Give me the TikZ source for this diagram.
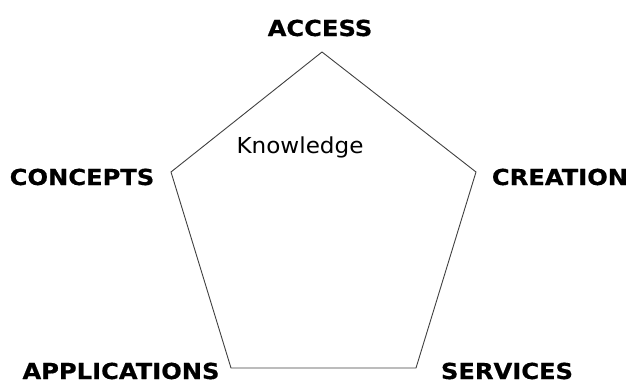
\documentclass[tikz,border=0pt]{standalone}
\usepackage{fontspec}
\setmainfont{DejaVu Sans}
\newfontfamily\cornerfont{DejaVu Sans Bold}[FakeStretch=1.1,FakeBold=0.6]
\newfontfamily\innerfont{DejaVu Sans}[FakeStretch=1.05]
\tikzset{
  corner/.style={font=\fontsize{22}{25}\cornerfont, anchor=base, inner sep=0pt},
  inner/.style={font=\fontsize{22}{25}\innerfont, anchor=base, inner sep=0pt},
  side/.style={draw=black!75, line width=0.9pt}
}
\begin{document}
\begin{tikzpicture}[x=1pt,y=-1pt]
\useasboundingbox (0,0) rectangle (630,383);
\coordinate (a) at (322,52);
\coordinate (b) at (476,172);
\coordinate (c) at (416,368);
\coordinate (d) at (231,368);
\coordinate (e) at (171,172);
\node[corner] (access) at (320,36) {ACCESS};
\node[corner] (creation) at (560,185) {CREATION};
\node[corner] (services) at (507,379) {SERVICES};
\node[corner] (applications) at (121,379) {APPLICATIONS};
\node[corner] (concepts) at (82,185) {CONCEPTS};
\node[inner] (knowledge) at (300,153) {Knowledge};
\path[side] (a) -- (b) -- (c) -- (d) -- (e) -- cycle;
\end{tikzpicture}
\end{document}
